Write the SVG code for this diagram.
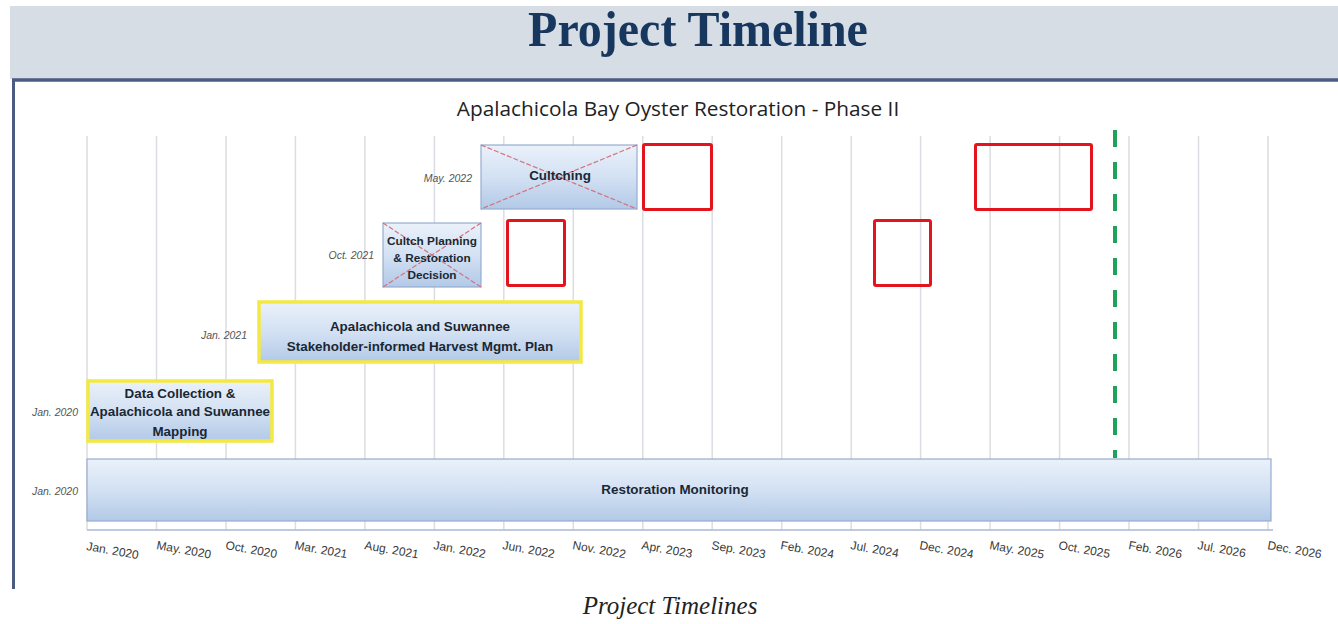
<svg xmlns="http://www.w3.org/2000/svg" width="1338" height="624" viewBox="0 0 1338 624">
<defs>
<linearGradient id="bar" x1="0" y1="0" x2="0" y2="1">
<stop offset="0" stop-color="#eaf1fa"/>
<stop offset="0.5" stop-color="#d3e1f3"/>
<stop offset="1" stop-color="#b2c9e7"/>
</linearGradient>
<style>
.grid{stroke:#dcdde2;stroke-width:1.5}
.tick{font-family:"Liberation Sans",Arial,sans-serif;font-size:12px;fill:#3a3a3a}
.side{font-family:"Liberation Sans",Arial,sans-serif;font-size:10.5px;font-style:italic;fill:#555}
.lbl{font-family:"Liberation Sans",Arial,sans-serif;font-size:13.4px;font-weight:bold;fill:#1a2733;text-anchor:middle}
.box{fill:url(#bar);stroke:#97acd0;stroke-width:1.2}
.ybox{fill:url(#bar);stroke:#f4e942;stroke-width:3.5}
.red{fill:none;stroke:#e3141c;stroke-width:3}
.xline{stroke:#d2737f;stroke-width:1.2;stroke-dasharray:5 2}
</style>
</defs>
<rect x="0" y="0" width="1338" height="624" fill="#ffffff"/>
<g id="header">
<rect x="10" y="6" width="1328" height="73" fill="#d6dde5"/>
<text x="0" y="0" transform="translate(698,46) scale(1,1.05)" text-anchor="middle" font-family="Liberation Serif,'Times New Roman',serif" font-weight="bold" font-size="48" fill="#17375e">Project Timeline</text>
</g>
<g id="frame">
<line x1="12" y1="80" x2="1338" y2="80" stroke="#4b5b82" stroke-width="3.5"/>
<line x1="13.5" y1="79" x2="13.5" y2="589" stroke="#4b5b82" stroke-width="3"/>
</g>
<text x="678" y="116" text-anchor="middle" font-family="'Open Sans','Liberation Sans',sans-serif" font-size="20.8" fill="#222">Apalachicola Bay Oyster Restoration - Phase II</text>
<g id="grid">
<line class="grid" x1="87" y1="136" x2="87" y2="530"/>
<line class="grid" x1="156.5" y1="136" x2="156.5" y2="530"/>
<line class="grid" x1="226" y1="136" x2="226" y2="530"/>
<line class="grid" x1="295.4" y1="136" x2="295.4" y2="530"/>
<line class="grid" x1="364.9" y1="136" x2="364.9" y2="530"/>
<line class="grid" x1="434.4" y1="136" x2="434.4" y2="530"/>
<line class="grid" x1="503.8" y1="136" x2="503.8" y2="530"/>
<line class="grid" x1="573.3" y1="136" x2="573.3" y2="530"/>
<line class="grid" x1="642.8" y1="136" x2="642.8" y2="530"/>
<line class="grid" x1="712.2" y1="136" x2="712.2" y2="530"/>
<line class="grid" x1="781.7" y1="136" x2="781.7" y2="530"/>
<line class="grid" x1="851.2" y1="136" x2="851.2" y2="530"/>
<line class="grid" x1="920.6" y1="136" x2="920.6" y2="530"/>
<line class="grid" x1="990.1" y1="136" x2="990.1" y2="530"/>
<line class="grid" x1="1059.6" y1="136" x2="1059.6" y2="530"/>
<line class="grid" x1="1129" y1="136" x2="1129" y2="530"/>
<line class="grid" x1="1198.5" y1="136" x2="1198.5" y2="530"/>
<line class="grid" x1="1268" y1="136" x2="1268" y2="530"/>
</g>
<g id="axis">
<line x1="87" y1="530" x2="1273" y2="530" stroke="#a9b8d4" stroke-width="1.5"/>
<text class="tick" transform="translate(86,550) rotate(10)">Jan. 2020</text>
<text class="tick" transform="translate(156,549) rotate(10)">May. 2020</text>
<text class="tick" transform="translate(225,549) rotate(10)">Oct. 2020</text>
<text class="tick" transform="translate(294,549) rotate(10)">Mar. 2021</text>
<text class="tick" transform="translate(364,549) rotate(10)">Aug. 2021</text>
<text class="tick" transform="translate(433,549) rotate(10)">Jan. 2022</text>
<text class="tick" transform="translate(502,549) rotate(10)">Jun. 2022</text>
<text class="tick" transform="translate(572,549) rotate(10)">Nov. 2022</text>
<text class="tick" transform="translate(641,549) rotate(10)">Apr. 2023</text>
<text class="tick" transform="translate(711,549) rotate(10)">Sep. 2023</text>
<text class="tick" transform="translate(780,549) rotate(10)">Feb. 2024</text>
<text class="tick" transform="translate(850,549) rotate(10)">Jul. 2024</text>
<text class="tick" transform="translate(919,549) rotate(10)">Dec. 2024</text>
<text class="tick" transform="translate(989,549) rotate(10)">May. 2025</text>
<text class="tick" transform="translate(1058,549) rotate(10)">Oct. 2025</text>
<text class="tick" transform="translate(1128,549) rotate(10)">Feb. 2026</text>
<text class="tick" transform="translate(1197,549) rotate(10)">Jul. 2026</text>
<text class="tick" transform="translate(1267,549) rotate(10)">Dec. 2026</text>
</g>
<g id="monitoring">
<rect class="box" x="87" y="459" width="1184" height="62"/>
<text class="lbl" x="675" y="494">Restoration Monitoring</text>
<text class="side" x="78" y="495" text-anchor="end">Jan. 2020</text>
</g>
<g id="data-collection">
<rect class="ybox" x="88" y="381" width="184" height="60"/>
<text class="lbl" x="180" y="398">Data Collection &amp;</text>
<text class="lbl" x="180" y="416">Apalachicola and Suwannee</text>
<text class="lbl" x="180" y="436">Mapping</text>
<text class="side" x="78" y="416" text-anchor="end">Jan. 2020</text>
</g>
<g id="harvest-plan">
<rect class="ybox" x="259" y="302" width="322" height="60"/>
<text class="lbl" x="420" y="331">Apalachicola and Suwannee</text>
<text class="lbl" x="420" y="351">Stakeholder-informed Harvest Mgmt. Plan</text>
<text class="side" x="247" y="339" text-anchor="end">Jan. 2021</text>
</g>
<g id="cultch-planning">
<rect class="box" x="383" y="223" width="98" height="64"/>
<line class="xline" x1="383" y1="223" x2="481" y2="287"/>
<line class="xline" x1="481" y1="223" x2="383" y2="287"/>
<text class="lbl" x="432" y="245" style="font-size:11.8px">Cultch Planning</text>
<text class="lbl" x="432" y="262" style="font-size:11.8px">&amp; Restoration</text>
<text class="lbl" x="432" y="279" style="font-size:11.8px">Decision</text>
<text class="side" x="374" y="259" text-anchor="end">Oct. 2021</text>
</g>
<g id="cultching">
<rect class="box" x="481" y="145" width="156" height="64"/>
<line class="xline" x1="481" y1="145" x2="637" y2="209"/>
<line class="xline" x1="637" y1="145" x2="481" y2="209"/>
<text class="lbl" x="560" y="180">Cultching</text>
<text class="side" x="472" y="182" text-anchor="end">May. 2022</text>
</g>
<g id="red-boxes">
<rect class="red" x="643.5" y="144.5" width="68" height="65" rx="1.5"/>
<rect class="red" x="507.5" y="220.5" width="57" height="65" rx="1.5"/>
<rect class="red" x="874.5" y="220.5" width="56" height="65" rx="1.5"/>
<rect class="red" x="975.5" y="144.5" width="116" height="65" rx="1.5"/>
</g>
<g id="today-line">
<line x1="1115" y1="130" x2="1115" y2="458" stroke="#1fa35a" stroke-width="4" stroke-dasharray="17 15"/>
</g>
<text x="670" y="614" text-anchor="middle" font-family="Liberation Serif,'Times New Roman',serif" font-style="italic" font-size="25" fill="#222">Project Timelines</text>
</svg>
